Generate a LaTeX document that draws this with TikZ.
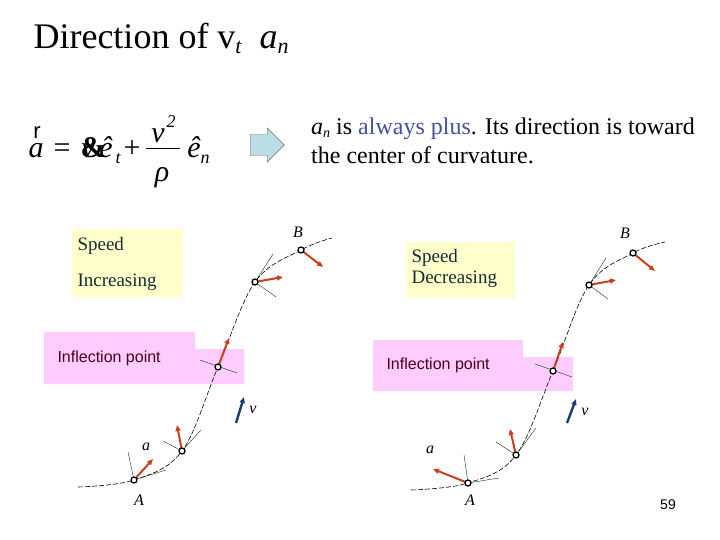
\documentclass[tikz,border=0pt]{standalone}
\usepackage{fontspec}
\setmainfont{Liberation Serif}
\setsansfont{Liberation Sans}
\usetikzlibrary{arrows.meta,shapes.arrows}
\definecolor{acc}{RGB}{200,65,30}
\definecolor{vblue}{RGB}{25,60,110}
\definecolor{ybox}{RGB}{255,255,204}
\definecolor{pbox}{RGB}{255,204,255}
\definecolor{plus}{RGB}{70,80,160}
\definecolor{sptext}{RGB}{20,45,50}
\definecolor{barr}{RGB}{185,222,230}
\tikzset{
 curve/.style={dash pattern=on 5pt off 2pt, line width=0.6pt},
 tick/.style={draw=black!60!green!60!black, line width=0.4pt},
 pt/.style={circle, draw, line width=1.3pt, fill=white, inner sep=0pt, minimum size=6pt},
 accarrow/.style={-{Triangle[length=6pt,width=5pt]}, acc, line width=2pt},
 varrow/.style={-{Triangle[length=6pt,width=5pt]}, vblue, line width=2.4pt},
 lbl/.style={font=\fontsize{16}{16}\selectfont\itshape},
 fm/.style={font=\fontsize{30}{30}\selectfont, inner sep=0pt, anchor=base},
 fs/.style={font=\fontsize{18}{18}\selectfont\itshape, inner sep=0pt, anchor=base},
 speed/.style={text=sptext, font=\fontsize{19}{23}\selectfont, align=left, anchor=north west},
 infl/.style={font=\sffamily\fontsize{16}{16}\selectfont, text=black!60!purple}
}
\begin{document}
\begin{tikzpicture}[x=1pt,y=-1pt]
\useasboundingbox (0,0) rectangle (720,540);
\node[anchor=west, font=\fontsize{36}{36}\selectfont] (title) at (30,38) {Direction of v\raisebox{-5pt}{\fontsize{22}{22}\selectfont\itshape t}\ \ \textit{a}\raisebox{-5pt}{\fontsize{22}{22}\selectfont\itshape n}};
% formula
\node[font=\sffamily\fontsize{22}{22}\selectfont, inner sep=0pt, anchor=base] (fr) at (37,139) {r};
\node[fm] (fa) at (36,158) {\itshape a};
\node[fm] (feq) at (62,158) {=};
\node[fm] (fv) at (88,158) {\itshape v};
\node[fm] (famp) at (93,158) {\bfseries\&};
\node[fm] (fe1) at (106,158) {\itshape ê};
\node[fs] (ft) at (118,164) {t};
\node[fm] (fplus) at (132,158) {+};
\node[fm] (fv2) at (158,143) {\itshape v};
\node[fs] (f2) at (171,128) {2};
\draw[line width=1pt] (146,149) -- (180,149);
\node[fm] (frho) at (162,182) {\itshape ρ};
\node[fm] (fe2) at (194,158) {\itshape ê};
\node[fs] (fn) at (205,164) {n};
\node[single arrow, draw=black!60, fill=barr, minimum height=34pt, minimum width=34pt, single arrow head extend=2pt, inner sep=3pt] (barrow) at (262,145) {};
\node[anchor=north west, align=left, font=\fontsize{24}{29}\selectfont, inner sep=0pt] (txt) at (311,118) {\textit{a}\raisebox{-3pt}{\fontsize{14}{14}\selectfont\itshape n} is \textcolor{plus}{always plus}. Its direction is toward\\the center of curvature.};
\node[font=\sffamily\fontsize{14}{14}\selectfont] (pg) at (668,505) {59};
% left panel
\fill[ybox] (72,229) rectangle (183,297);
\node[speed, anchor=west] (sp1) at (74,246) {Speed};
\node[speed, anchor=west] (in1) at (74,282) {Increasing};
\fill[pbox] (44,332) -- (195,332) -- (195,349) -- (244,349) -- (244,384) -- (44,384) -- cycle;
\node[infl, anchor=west] (ip1) at (54,358) {Inflection point};
\draw[curve] plot[smooth, tension=0.6] coordinates {(78,487) (134,480) (182,451) (218,367) (255,282) (301,250) (332,238)};
\draw[tick] (128,452)--(134,480)--(166,470);
\draw[tick] (163,441)--(182,451)--(201,430);
\draw[tick] (200,360)--(237,373);
\draw[tick] (273,254)--(255,282)--(276,297);
\draw[accarrow] (134,480) -- (153,459);
\draw[accarrow] (182,451) -- (177,425);
\draw[accarrow] (218,367) -- (229,338);
\draw[accarrow] (255,282) -- (283,277);
\draw[accarrow] (301,250) -- (323,267);
\node[pt] (a1) at (134,480) {}; \node[pt] (b1) at (182,451) {};
\node[pt] (c1) at (218,367) {}; \node[pt] (d1) at (255,282) {}; \node[pt] (e1) at (301,250) {};
\draw[varrow] (236,423) -- (244,397);
\node[lbl] (v1) at (253,410) {v}; \node[lbl] (al1) at (146,447) {a};
\node[lbl] (B1) at (298,232) {B}; \node[lbl] (A1) at (139,500) {A};
% right panel
\fill[ybox] (406,242) rectangle (515,298);
\node[speed] (sp2) at (408,246) {Speed\\[-2pt]Decreasing};
\fill[pbox] (373,340) -- (523,340) -- (523,357) -- (573,357) -- (573,391) -- (373,391) -- cycle;
\node[infl, anchor=west] (ip2) at (383,365) {Inflection point};
\draw[curve] plot[smooth, tension=0.6] coordinates {(411,490) (468,483) (516,455) (553,371) (589,285) (633,253) (665,242)};
\draw[tick] (464,455)--(468,483)--(499,478);
\draw[tick] (496,442)--(516,455)--(536,428);
\draw[tick] (535,364)--(572,377);
\draw[tick] (606,258)--(589,285)--(608,299);
\draw[accarrow] (468,483) -- (433,469);
\draw[accarrow] (516,455) -- (510,429);
\draw[accarrow] (553,371) -- (563,342);
\draw[accarrow] (589,285) -- (616,280);
\draw[accarrow] (633,253) -- (655,271);
\node[pt] (a2) at (468,483) {}; \node[pt] (b2) at (516,455) {};
\node[pt] (c2) at (553,371) {}; \node[pt] (d2) at (589,285) {}; \node[pt] (e2) at (633,253) {};
\draw[varrow] (567,423) -- (576,399);
\node[lbl] (v2) at (585,412) {v}; \node[lbl] (al2) at (430,450) {a};
\node[lbl] (B2) at (625,233) {B}; \node[lbl] (A2) at (470,500) {A};
\end{tikzpicture}
\end{document}
